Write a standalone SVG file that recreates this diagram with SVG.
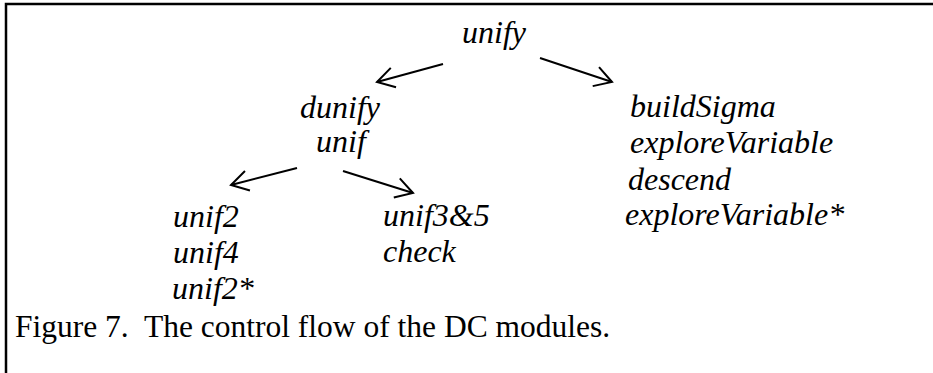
<svg xmlns="http://www.w3.org/2000/svg" width="933" height="373" viewBox="0 0 933 373">
  <defs>
    <style>
      .lbl { font-family: "Liberation Serif", "Times New Roman", serif; font-style: italic; font-size: 32px; fill: #000; }
      .cap { font-family: "Liberation Serif", "Times New Roman", serif; font-size: 31.5px; fill: #000; }
      .edge { stroke: #000; stroke-width: 2; fill: none; marker-end: url(#arr); }
    </style>
    <marker id="arr" markerUnits="userSpaceOnUse" viewBox="-20 -12 22 24" refX="0" refY="0" markerWidth="22" markerHeight="24" orient="auto" overflow="visible">
      <path d="M-17,-10 L0,0 L-17,10" fill="none" stroke="#000" stroke-width="2"/>
    </marker>
  </defs>
  <rect x="0" y="0" width="933" height="373" fill="#fff"/>
  <rect id="frame" x="6" y="4" width="940" height="380" fill="none" stroke="#000" stroke-width="2.5"/>

  <g id="connectors">
    <line class="edge" x1="443" y1="64" x2="377" y2="82"/>
    <line class="edge" x1="540" y1="58" x2="612" y2="82"/>
    <line class="edge" x1="297" y1="168" x2="231" y2="185"/>
    <line class="edge" x1="343" y1="171" x2="413" y2="193"/>
  </g>

  <g id="n-unify"><text class="lbl" x="462" y="43">unify</text></g>
  <g id="n-dunify">
    <text class="lbl" x="300" y="118">dunify</text>
    <text class="lbl" x="316" y="152">unif</text>
  </g>
  <g id="n-buildSigma">
    <text class="lbl" x="630" y="117">buildSigma</text>
    <text class="lbl" x="630" y="153">exploreVariable</text>
    <text class="lbl" x="628" y="190">descend</text>
    <text class="lbl" x="625" y="225">exploreVariable*</text>
  </g>
  <g id="n-unif2">
    <text class="lbl" x="173" y="227">unif2</text>
    <text class="lbl" x="173" y="263">unif4</text>
    <text class="lbl" x="172" y="299">unif2*</text>
  </g>
  <g id="n-unif3">
    <text class="lbl" x="383" y="226">unif3&amp;5</text>
    <text class="lbl" x="383" y="262">check</text>
  </g>
  <g id="caption"><text class="cap" x="15" y="337" xml:space="preserve">Figure 7.  The control flow of the DC modules.</text></g>
</svg>
